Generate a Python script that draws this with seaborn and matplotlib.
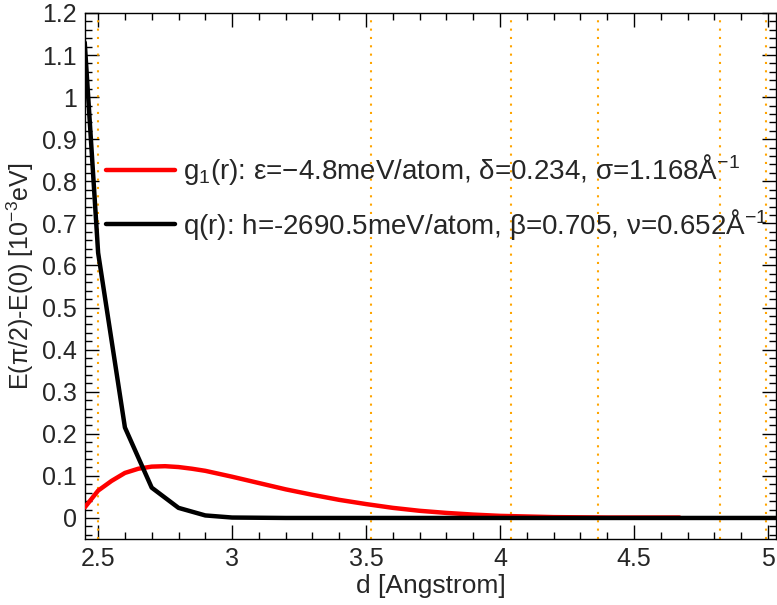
import numpy as np
import pandas as pd
import seaborn as sns
import matplotlib.pyplot as plt
from matplotlib.ticker import MultipleLocator, FormatStrFormatter

sns.set_style('ticks')
plt.rcParams['font.family'] = ['Liberation Sans', 'DejaVu Sans']
plt.rcParams['mathtext.default'] = 'regular'

# red curve g1(r)
d_g = [2.45, 2.5, 2.55, 2.6, 2.65, 2.7, 2.75, 2.8, 2.85, 2.9, 3.0, 3.1, 3.2, 3.3,
       3.4, 3.5, 3.6, 3.7, 3.8, 3.9, 4.0, 4.2, 4.4, 4.67]
e_g = [0.025, 0.065, 0.088, 0.107, 0.117, 0.122, 0.123, 0.121, 0.117, 0.112, 0.098,
       0.083, 0.068, 0.055, 0.043, 0.033, 0.024, 0.017, 0.012, 0.008, 0.005, 0.002,
       0.001, 0.001]
# black curve q(r)
d_q = [2.45, 2.5, 2.6, 2.7, 2.8, 2.9, 3.0, 3.2, 5.03]
e_q = [1.13, 0.63, 0.215, 0.072, 0.024, 0.006, 0.001, 0.0, 0.0]
# neighbour shell distances (dotted lines)
shells = [2.5, 3.518, 4.041, 4.365, 4.822, 4.994]

lab_g = 'g$_1$(r): ε=−4.8meV/atom, δ=0.234, σ=1.168Å$^{-1}$'
lab_q = 'q(r): h=-2690.5meV/atom, β=0.705, ν=0.652Å$^{-1}$'

df = pd.concat([
    pd.DataFrame({'d': d_g, 'E': e_g, 'curve': lab_g}),
    pd.DataFrame({'d': d_q, 'E': e_q, 'curve': lab_q}),
])

fig = plt.figure(figsize=(7.77, 6.05), dpi=100)
ax = fig.add_axes([85/777, 66/605, 691/777, 526/605])

for s in shells:
    ax.axvline(s, color='orange', ls=(0, (1, 3)), lw=1.5, zorder=1)

sns.lineplot(data=df, x='d', y='E', hue='curve', palette=['red', 'black'],
             linewidth=3.2, ax=ax, sort=False, zorder=3)

ax.set_xlim(2.451, 5.03)
ax.set_ylim(-0.05, 1.2)
ax.xaxis.set_major_locator(MultipleLocator(0.5))
ax.xaxis.set_minor_locator(MultipleLocator(0.1))
ax.yaxis.set_major_locator(MultipleLocator(0.1))
ax.yaxis.set_minor_locator(MultipleLocator(0.02))
ax.xaxis.set_major_formatter(FormatStrFormatter('%g'))
ax.yaxis.set_major_formatter(FormatStrFormatter('%g'))
ax.tick_params(which='both', direction='in', top=True, right=True, color='black')
ax.tick_params(which='major', length=10, width=1, labelsize=18, pad=6)
ax.tick_params(which='minor', length=5, width=1)
for sp in ax.spines.values():
    sp.set_color('black')
    sp.set_linewidth(1)

ax.set_xlabel('d [Angstrom]', fontsize=19, labelpad=2)
ax.set_ylabel('E(π/2)-E(0) [10$^{-3}$eV]', fontsize=18, labelpad=4)

ax.legend(title=None, frameon=False, fontsize=20, loc='upper left',
          bbox_to_anchor=(0.03, 0.735), borderaxespad=0, borderpad=0,
          handlelength=2.5, handletextpad=0.28, labelspacing=0.7)

plt.savefig('out.png', dpi=100)
